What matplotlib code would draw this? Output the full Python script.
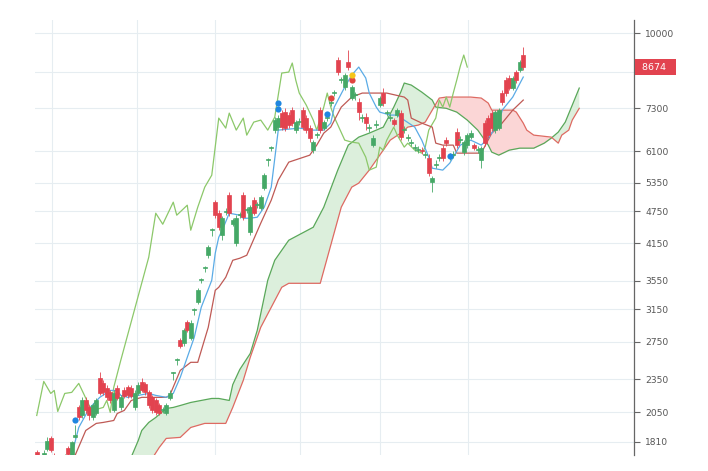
import numpy as np
import matplotlib
matplotlib.use("Agg")
import matplotlib.pyplot as plt
from matplotlib.transforms import blended_transform_factory

# ---------------- data ----------------
bars = np.arange(140)
opens = [1733,1690,1711,1754,1837,1711,1661,1640,1661,1762,
         1711,1845,2091,2022,2153,2091,2005,2039,2361,2312,
         2265,2227,2065,2265,2091,2245,2274,2265,2091,2217,
         2322,2303,2227,2181,2153,2108,2065,2039,2171,2415,
         2545,2767,2733,2984,2791,3138,3245,3558,3741,3950,
         4386,4931,4709,4295,4729,5077,4497,4153,4670,5077,
         4768,4349,4973,4869,4809,5228,5878,6180,6664,6748,
         7155,7185,7096,7245,6664,6891,7245,7007,6720,6129,
         6526,7245,6720,7007,7461,7780,8932,8214,7978,8857,
         7619,7715,7493,7007,7036,6720,6259,6805,7399,7780,
         7155,7007,6949,7096,7155,6664,6445,6311,6180,6129,
         6129,6002,5927,5361,5757,5927,6180,6391,5952,6002,
         6609,6391,6078,6259,6472,6259,6129,5878,6862,7007,
         7155,6664,6720,7780,8214,8285,7945,8494,8566,9120]
closes = [1711,1661,1725,1821,1747,1661,1640,1661,1704,1718,
          1810,1860,2005,2153,2065,2022,2108,2153,2217,2227,
          2181,2153,2217,2171,2181,2190,2199,2190,2217,2293,
          2245,2227,2108,2065,2048,2039,2074,2108,2217,2421,
          2556,2699,2886,2886,2972,3151,3412,3573,3757,4084,
          4404,4670,4441,4611,4748,4709,4574,4611,4690,4631,
          4788,4829,4709,4890,5035,5520,5902,6207,6949,7007,
          6748,6720,6805,6862,6891,6920,6748,6664,6445,6337,
          6553,6664,6891,7036,7493,7812,8494,8250,8389,8674,
          7978,7748,7185,7036,6862,6748,6445,6833,7619,7461,
          7185,7036,6833,7245,6472,6692,6472,6337,6207,6155,
          6104,6027,5566,5451,5781,5952,5927,6311,5977,6027,
          6259,6418,6337,6526,6581,6180,6155,6180,6311,6526,
          6720,7185,7245,7493,7780,7945,8285,8214,8857,8674]
highs = [1747,1704,1747,1845,1852,1725,1675,1675,1718,1776,
         1821,1939,2108,2181,2181,2108,2126,2171,2421,2341,
         2293,2245,2245,2293,2199,2274,2293,2293,2245,2322,
         2361,2322,2245,2199,2171,2126,2091,2126,2245,2425,
         2566,2791,2910,3009,3009,3164,3441,3588,3773,4119,
         4423,4973,4768,4650,4809,5141,4611,4670,4729,5141,
         4829,4869,5035,4931,5077,5566,5927,6232,7036,7096,
         7245,7300,7185,7337,6949,7007,7337,7096,6805,6391,
         6609,7337,6949,7096,7556,7878,9045,8319,8459,9313,
         8045,7812,7619,7126,7155,6833,6526,6949,7683,7945,
         7245,7126,7007,7300,7245,6777,6553,6418,6285,6232,
         6207,6104,6027,5499,5878,6027,6259,6472,6053,6104,
         6720,6499,6391,6581,6664,6311,6232,6232,6949,7096,
         7245,7245,7300,7878,8319,8389,8354,8566,8932,9431]
lows = [1697,1640,1704,1740,1733,1640,1620,1620,1640,1704,
        1697,1837,1980,1997,2039,1980,1980,2022,2199,2199,
        2153,2126,2048,2153,2065,2171,2171,2171,2065,2199,
        2227,2199,2082,2039,2022,2022,2039,2022,2153,2341,
        2492,2676,2699,2862,2767,3073,3218,3513,3679,3901,
        4277,4611,4386,4206,4670,4650,4461,4102,4611,4574,
        4709,4295,4670,4809,4768,5185,5733,6104,6581,6664,
        6664,6637,6720,6777,6581,6805,6664,6581,6337,6053,
        6445,6581,6664,6920,7368,7683,8389,8112,7878,8566,
        7556,7556,6949,6891,6664,6609,6207,6720,7337,7368,
        7066,6920,6777,7036,6391,6581,6364,6232,6104,6053,
        6027,5927,5499,5141,5684,5853,5853,6232,5878,5927,
        6180,6311,6002,6180,6418,6129,6053,5684,6232,6445,
        6637,6581,6664,7399,7683,7878,7878,8113,8494,8566]

tenkan_x = [9,10,12,15,18,21,23,24,26,29,32,34,37,39,41,42,45,47,50,51,52,53,55,58,59,
            61,63,65,67,69,75,79,82,84,85,88,90,92,94,95,97,98,101,103,105,108,110,
            112,113,116,118,121,124,127,129,132,133,136,139]
tenkan_v = [1650,1714,1923,2082,2181,2245,2245,2199,2181,2199,2217,2199,2181,2217,2371,
            2472,2803,3178,3558,3984,4259,4386,4709,4670,4611,4611,4631,4829,5251,6664,
            6720,6664,6664,6862,7337,7978,8389,8674,8285,7780,7337,7185,7096,7096,6949,
            6748,6391,5952,5684,5638,5805,6259,6391,6259,6445,6862,7245,7651,8319]

kijun_x = [10,11,14,17,19,22,23,25,27,30,37,38,41,44,46,49,51,52,54,56,58,60,61,64,67,
           69,72,78,80,82,84,87,90,93,100,105,106,107,110,113,114,116,119,120,127,130,
           132,136,139]
kijun_v = [1680,1714,1899,1956,1964,1980,2039,2065,2153,2181,2181,2199,2441,2525,2525,
           2923,3412,3455,3603,3868,3901,3950,4084,4517,4973,5407,5829,6002,6259,6581,
           6748,7337,7651,7780,7780,7651,7556,7007,6862,6748,6311,6259,6259,6053,6053,
           6581,6748,7245,7556]

chikou_x = [0,2,4,5,6,8,10,12,15,16,19,20,21,22,24,32,34,36,39,40,43,44,46,48,50,52,
            54,55,57,59,60,62,64,66,68,70,72,73,74,75,77,79,80,82,83,84,85,88,90,92,
            94,95,97,98,99,100,102,103,105,106,108,110,111,112,114,115,116,117,118,
            119,120,121,122,123]
chikou_v = [2022,2331,2217,2245,2056,2217,2227,2312,2108,2065,2091,2153,2048,2274,2545,
            3918,4709,4497,4931,4670,4869,4386,4829,5251,5520,7007,6720,7155,6664,7007,
            6526,6891,6949,6664,7036,8459,8494,8821,8214,7780,7399,6949,6664,7337,7780,
            7337,7036,6391,6337,6311,5952,5638,5708,6207,6129,6391,6748,6526,6207,6311,
            6129,6053,6207,6664,7007,7556,7337,7651,7337,7780,8214,8700,9120,8674]

spanA_x = [27,29,30,32,34,37,39,41,44,47,50,52,55,56,58,61,63,66,68,69,72,79,82,86,89,
           92,95,99,102,104,105,107,110,113,114,117,120,123,126,129,130,132,135,138,
           142,145,147,149,151,153,155]
spanA_v = [1700,1821,1899,1964,2005,2082,2091,2108,2135,2153,2171,2171,2153,2300,2450,
           2620,2886,3558,3868,3950,4206,4441,4829,5638,6259,6472,6581,6748,7337,7812,
           8113,8045,7812,7556,7337,7300,7185,6949,6664,6259,6078,6002,6129,6180,6180,
           6311,6445,6609,6891,7399,7945]

spanB_x = [27,33,35,37,41,44,48,54,56,59,61,64,67,70,72,81,84,87,90,92,95,97,101,104,
           106,109,111,113,115,117,124,127,129,130,136,137,139,140,142,147,149,150,152,
           153,155]
spanB_v = [1600,1690,1769,1837,1845,1923,1956,1956,2091,2341,2578,2923,3178,3455,3513,
           3513,4119,4829,5251,5340,5638,5878,6391,6581,6748,6805,6891,7245,7619,7651,
           7651,7619,7461,7245,7245,7185,6862,6664,6526,6472,6311,6526,6664,6949,7300]

blue_dots_x = [11, 69, 69, 83, 118]
blue_dots_v = [1980, 7461, 7270, 7126, 5977]
red_dots_x = [84, 90]
red_dots_v = [7619, 8214]
yellow_dots_x = [90]
yellow_dots_v = [8389]

yticks = [10000, 8500, 7300, 6100, 5350, 4750, 4150, 3550, 3150, 2750, 2350, 2050, 1810]
vgrid = [4.4, 28.6, 50.9, 75.2, 98.1, 123.2]
last_price = 8674

# ---------------- style ----------------
UP = "#45a866"
DOWN = "#e2434f"
TENKAN = "#5aabe6"
KIJUN = "#bf5a55"
CHIKOU = "#8cc86a"
SPAN_A = "#5aa85a"
SPAN_B = "#de6a62"

fig = plt.figure(figsize=(7.08, 4.71), dpi=100)
ax = fig.add_axes([35/708, 1-455/471, 599/708, 435/471])
ax.set_yscale("log")
ax.set_ylim(1714, 10559)
ax.set_xlim(-0.5, 170.64)

# cloud fill (dense grid used only for shading between the two drawn spans)
gx = np.linspace(spanA_x[0], spanA_x[-1], 1200)
la = np.interp(gx, spanA_x, np.log(spanA_v))
lb = np.interp(gx, spanB_x, np.log(spanB_v))
ga, gb = np.exp(la), np.exp(lb)
ax.fill_between(gx, ga, gb, where=ga >= gb, interpolate=True,
                color="#dcefdc", lw=0, zorder=1)
ax.fill_between(gx, ga, gb, where=ga < gb, interpolate=True,
                color="#fbd6d6", lw=0, zorder=1)
ax.plot(spanA_x, spanA_v, color=SPAN_A, lw=0.9, zorder=2)
ax.plot(spanB_x, spanB_v, color=SPAN_B, lw=0.9, zorder=2)
ax.plot(chikou_x, chikou_v, color=CHIKOU, lw=0.9, zorder=2)
ax.plot(kijun_x, kijun_v, color=KIJUN, lw=0.9, zorder=2.2)
ax.plot(tenkan_x, tenkan_v, color=TENKAN, lw=0.9, zorder=2.3)

# candles
o = np.array(opens, float); c = np.array(closes, float)
h = np.array(highs, float); l = np.array(lows, float)
cols = np.where(c >= o, UP, DOWN)
ax.vlines(bars, l, h, colors=cols, lw=0.6, zorder=3)
bot = np.minimum(o, c); top = np.maximum(o, c)
ax.bar(bars, top - bot, bottom=bot, width=1.05, color=cols,
       edgecolor=cols, lw=0.5, zorder=3.1)

# signal dots
ax.scatter(blue_dots_x, blue_dots_v, s=20, color="#1f86e0", zorder=4, lw=0)
ax.scatter(red_dots_x, red_dots_v, s=20, color="#e0453f", zorder=4, lw=0)
ax.scatter(yellow_dots_x, yellow_dots_v, s=20, color="#f5c518", zorder=4, lw=0)

# axes styling
for s in ["top", "left", "bottom"]:
    ax.spines[s].set_visible(False)
ax.spines["right"].set_color("#666666")
ax.spines["right"].set_linewidth(0.9)
ax.yaxis.tick_right()
ax.set_yticks(yticks)
ax.set_yticklabels([str(t) for t in yticks])
ax.yaxis.set_minor_locator(matplotlib.ticker.NullLocator())
ax.tick_params(axis="y", length=4, width=0.8, color="#666666",
               labelsize=6.6, labelcolor="#555555", pad=4)
ax.set_xticks(vgrid)
ax.set_xticklabels([])
ax.tick_params(axis="x", length=0)
ax.grid(True, color="#e6edf1", lw=0.8, zorder=0)
ax.set_axisbelow(True)

# last price label
tr = blended_transform_factory(ax.transAxes, ax.transData)
ax.text(1.0 + 4.8/599, last_price, " " + str(last_price) + "  ", transform=tr,
        ha="left", va="center", color="white", fontsize=6.8, zorder=10, clip_on=False,
        bbox=dict(boxstyle="square,pad=0.4", fc="#e2434f", ec="none"))

fig.savefig("out.png", dpi=100)
